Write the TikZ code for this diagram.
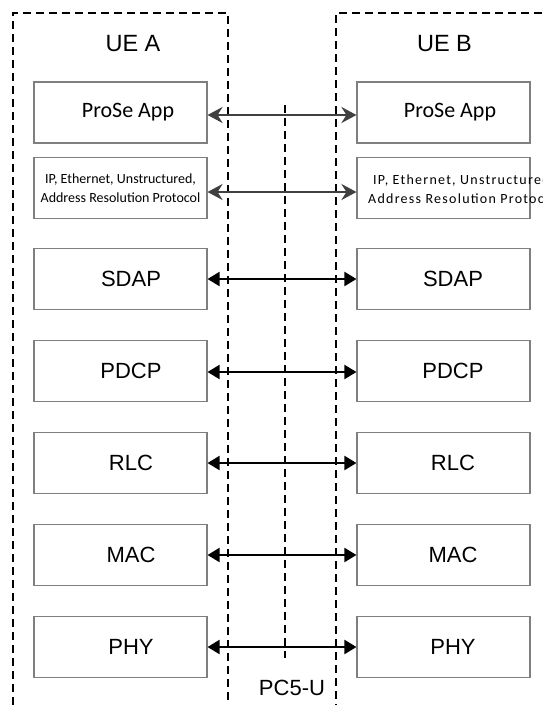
\documentclass[tikz,border=0pt]{standalone}
\usepackage{fontspec}
\setmainfont{Liberation Sans}
\newfontfamily\calfont{Carlito}
\newfontfamily\calspfont[LetterSpace=9]{Carlito}
\usetikzlibrary{arrows.meta}
\definecolor{arrgray}{HTML}{404040}
\definecolor{boxgray}{HTML}{7F7F7F}
\tikzset{
  layerbox/.style={draw=boxgray, line width=1.1pt, minimum width=173pt, minimum height=61pt, inner sep=0pt, font=\fontsize{22}{24}\selectfont},
  appbox/.style={layerbox, font=\calfont\fontsize{22}{24}\selectfont},
  ipbox/.style={layerbox, align=center, font=\calfont\fontsize{14}{19}\selectfont},
  toparrow/.style={draw=arrgray, line width=2.8pt, {Stealth[length=15pt,width=16pt,inset=5pt]}-{Stealth[length=15pt,width=16pt,inset=5pt]}},
  lowarrow/.style={draw=black, line width=2pt, {Triangle[length=12pt,width=14pt]}-{Triangle[length=12pt,width=14pt]}},
  dashline/.style={draw=black, line width=1.3pt, dash pattern=on 8pt off 5pt},
  uelabel/.style={font=\fontsize{23.5}{26}\selectfont, inner sep=0pt},
  iptext/.style={anchor=west, inner sep=0pt, font=\calspfont\fontsize{14}{16}\selectfont}
}
\begin{document}
\begin{tikzpicture}[x=1pt, y=-1pt]
\useasboundingbox (0,0) rectangle (542,705);
\fill[white] (0,0) rectangle (542,705);
% dashed device boxes and interface line
\draw[dashline] (13,705) -- (13,13) -- (228,13) -- (228,705);
\draw[dashline] (542,13) -- (336,13) -- (336,705);
\draw[dashline] (285,105) -- (285,658);
% titles
\node[uelabel] (uea) at (133,43.5) {UE A};
\node[uelabel] (ueb) at (444.5,43.5) {UE B};
\node[font=\fontsize{22}{24}\selectfont, inner sep=0pt] (pc5) at (292,688) {PC5-U};
% left stack
\node[appbox] (appA) at (120.5,112.5) {\hspace*{15pt}ProSe App};
\node[ipbox] (ipA) at (120.5,188) {IP, Ethernet, Unstructured,\\Address Resolution Protocol};
\node[layerbox] (sdapA) at (120.5,279) {\hspace*{21pt}SDAP};
\node[layerbox] (pdcpA) at (120.5,371) {\hspace*{21pt}PDCP};
\node[layerbox] (rlcA) at (120.5,463) {\hspace*{21pt}RLC};
\node[layerbox] (macA) at (120.5,555) {\hspace*{21pt}MAC};
\node[layerbox] (phyA) at (120.5,647) {\hspace*{21pt}PHY};
% right stack
\node[appbox] (appB) at (443.5,112.5) {\hspace*{13pt}ProSe App};
\node[layerbox] (ipB) at (443.5,188) {};
\node[iptext] (ipB1) at (373,181) {IP, Ethernet, Unstructured,};
\node[iptext] (ipB2) at (368,199) {Address Resolution Protocol};
\node[layerbox] (sdapB) at (443.5,279) {\hspace*{19pt}SDAP};
\node[layerbox] (pdcpB) at (443.5,371) {\hspace*{19pt}PDCP};
\node[layerbox] (rlcB) at (443.5,463) {\hspace*{19pt}RLC};
\node[layerbox] (macB) at (443.5,555) {\hspace*{19pt}MAC};
\node[layerbox] (phyB) at (443.5,647) {\hspace*{19pt}PHY};
% connectors
\draw[toparrow] ([yshift=-2.5pt]appA.east) -- ([yshift=-2.5pt]appB.west);
\draw[toparrow] ([yshift=-4pt]ipA.east) -- ([yshift=-4pt]ipB.west);
\draw[lowarrow] (sdapA.east) -- (sdapB.west);
\draw[lowarrow] ([yshift=-1pt]pdcpA.east) -- ([yshift=-1pt]pdcpB.west);
\draw[lowarrow] (rlcA.east) -- (rlcB.west);
\draw[lowarrow] (macA.east) -- (macB.west);
\draw[lowarrow] (phyA.east) -- (phyB.west);
\end{tikzpicture}
\end{document}
